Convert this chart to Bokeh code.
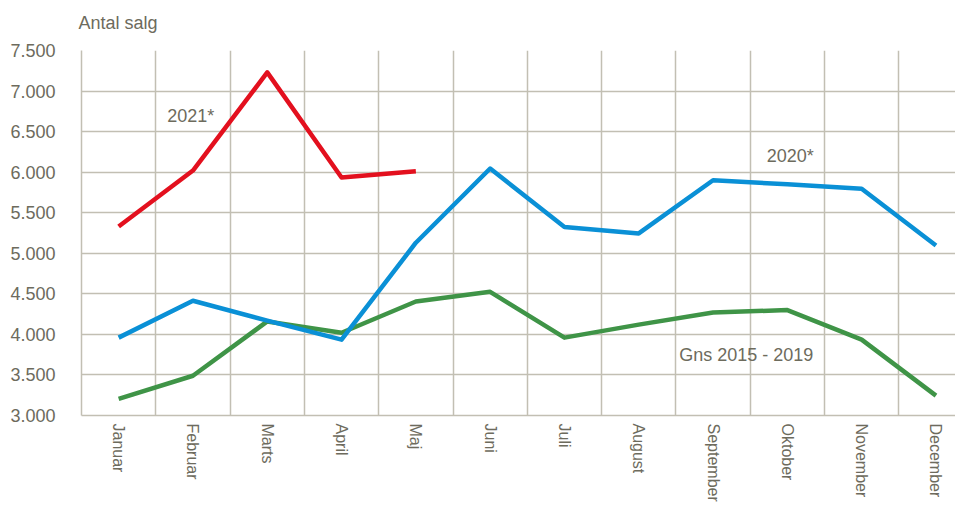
from bokeh.plotting import figure
from bokeh.models import FixedTicker, Label, Title
from bokeh.embed import file_html
from bokeh.resources import INLINE

months = ["Januar", "Februar", "Marts", "April", "Maj", "Juni", "Juli",
          "August", "September", "Oktober", "November", "December"]
sales_2021 = [5330, 6020, 7230, 5935, 6010]
sales_2020 = [3960, 4415, 4170, 3935, 5130, 6045, 5325, 5245, 5900, 5850, 5795, 5095]
sales_avg = [3205, 3490, 4160, 4020, 4405, 4525, 3960, 4120, 4270, 4300, 3935, 3245]
y_ticks = [3000, 3500, 4000, 4500, 5000, 5500, 6000, 6500, 7000, 7500]
y_tick_labels = ["3.000", "3.500", "4.000", "4.500", "5.000", "5.500",
                 "6.000", "6.500", "7.000", "7.500"]

FONT = "Liberation Sans"
TXT = "#6d6b5d"
GRID = "#c2bfb3"

x_pos = [i + 0.5 for i in range(len(months))]

p = figure(frame_width=874, frame_height=365, output_backend="svg", toolbar_location=None,
           x_range=(0, 11.763), y_range=(3000, 7500),
           min_border_left=0, min_border_right=0, min_border_top=0,
           min_border_bottom=0)
p.outline_line_color = None
p.background_fill_color = "white"

# spacers (empty titles) to position the frame
p.add_layout(Title(text=" ", text_font_size="1px", standoff=5), "above")
p.add_layout(Title(text=" ", text_font_size="1px", standoff=4), "left")

p.title.text = "Antal salg"
p.title.text_font = FONT
p.title.text_font_size = "18px"
p.title.text_font_style = "normal"
p.title.text_color = TXT
p.title.align = "left"
p.title.offset = -3
p.title.standoff = 20

# axes
p.xaxis.ticker = FixedTicker(ticks=x_pos)
p.xaxis.major_label_overrides = {x: m for x, m in zip(x_pos, months)}
p.xaxis.major_label_orientation = -1.5707963267948966
p.xaxis.major_label_standoff = 8
p.yaxis.ticker = FixedTicker(ticks=y_ticks)
p.yaxis.major_label_overrides = {v: l for v, l in zip(y_ticks, y_tick_labels)}
p.yaxis.major_label_standoff = 26
for ax in (p.xaxis, p.yaxis):
    ax.major_tick_line_color = None
    ax.minor_tick_line_color = None
    ax.major_tick_out = 0
    ax.major_tick_in = 0
    ax.minor_tick_out = 0
    ax.minor_tick_in = 0
    ax.axis_line_color = GRID
    ax.axis_line_width = 1.5
    ax.major_label_text_font = FONT
    ax.major_label_text_color = TXT
p.xaxis.major_label_text_font_size = "16px"
p.yaxis.major_label_text_font_size = "18px"

# grids
p.xgrid.ticker = FixedTicker(ticks=list(range(0, 13)))
p.ygrid.ticker = FixedTicker(ticks=y_ticks)
for g in (p.xgrid, p.ygrid):
    g.grid_line_color = GRID
    g.grid_line_width = 1.5

p.line(x_pos, sales_avg, line_color="#3f9447", line_width=4.5, line_join="round")
p.line(x_pos, sales_2020, line_color="#0a90d6", line_width=4.5, line_join="round")
p.line(x_pos[:len(sales_2021)], sales_2021, line_color="#e3101e", line_width=4.5,
       line_join="round")

def lab(x, y, t, align="center"):
    p.add_layout(Label(x=x, y=y, text=t, text_font=FONT, text_font_size="18px",
                       text_color=TXT, text_align=align, text_baseline="middle"))

lab(1.47, 6690, "2021*")
lab(9.54, 6205, "2020*")
lab(9.85, 3740, "Gns 2015 - 2019", "right")

open("out.html", "w").write(file_html(p, INLINE))
